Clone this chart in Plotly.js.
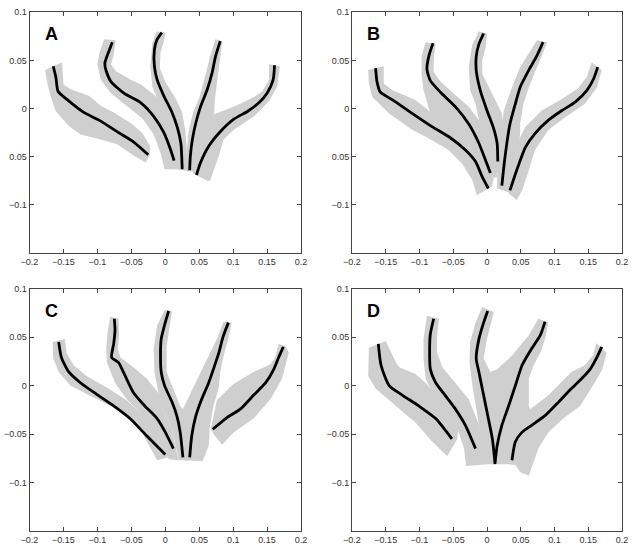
<!DOCTYPE html>
<html><head><meta charset="utf-8">
<script src="https://cdn.plot.ly/plotly-3.0.1.min.js"></script>
<style>html,body{margin:0;padding:0;background:#fff}#chart{width:636px;height:544px}</style>
</head><body><div id="chart"></div>
<script>
// ---------- Data ----------
const panelLabels = ['A','B','C','D'];
const xTickVals = [-0.2,-0.15,-0.1,-0.05,0,0.05,0.1,0.15,0.2];
const xTickText = ['\u22120.2','\u22120.15','\u22120.1','\u22120.05','0','0.05','0.1','0.15','0.2'];
const yTickVals = [-0.1,-0.05,0,0.05,0.1];
const yTickTextTop = ['\u22120.1','0.05','0','0.05','0.1'];
const yTickTextBottom = ['\u22120.1','\u22120.05','0','0.05','0.1'];

// Panel A
const panelA_lineX = [
  [-0.165,-0.161,-0.158,-0.144,-0.120,-0.095,-0.071,-0.046,-0.025],
  [-0.078,-0.085,-0.089,-0.087,-0.080,-0.061,-0.036,-0.017,-0.002,0.008,0.013],
  [-0.005,-0.012,-0.016,-0.016,-0.012,-0.002,0.010,0.018,0.023,0.025],
  [0.081,0.074,0.069,0.062,0.052,0.045,0.040,0.037,0.036],
  [0.161,0.159,0.150,0.138,0.121,0.101,0.081,0.064,0.052,0.046]];
const panelA_lineY = [
  [0.044,0.032,0.018,0.009,-0.004,-0.013,-0.024,-0.035,-0.048],
  [0.069,0.056,0.047,0.039,0.028,0.016,0.006,-0.008,-0.025,-0.043,-0.054],
  [0.079,0.072,0.061,0.044,0.030,0.013,-0.004,-0.020,-0.036,-0.063],
  [0.070,0.054,0.037,0.020,0.002,-0.015,-0.032,-0.049,-0.064],
  [0.045,0.030,0.016,0.006,-0.003,-0.011,-0.024,-0.039,-0.056,-0.069]];
const panelA_bandX = [
  [-0.177,-0.152,-0.150,-0.139,-0.112,-0.095,-0.076,-0.051,-0.034,-0.022,-0.023,-0.029,-0.046,-0.071,-0.095,-0.125,-0.142,-0.161,-0.169,-0.174],
  [-0.090,-0.097,-0.100,-0.095,-0.080,-0.056,-0.034,-0.017,-0.007,-0.001,0.025,0.023,0.015,0.005,-0.014,-0.036,-0.051,-0.073,-0.080,-0.076,-0.073],
  [-0.013,-0.019,-0.022,-0.019,-0.007,0.008,0.015,0.018,0.035,0.032,0.030,0.025,0.015,0.0005,-0.008,-0.007,-0.002,0.0005],
  [0.074,0.066,0.059,0.051,0.041,0.034,0.031,0.032,0.047,0.052,0.062,0.072,0.073,0.077,0.081,0.084],
  [0.153,0.153,0.143,0.131,0.101,0.072,0.059,0.047,0.040,0.062,0.066,0.072,0.079,0.086,0.101,0.131,0.153,0.165,0.169]];
const panelA_bandY = [
  [0.040,0.048,0.025,0.020,0.013,0.003,-0.004,-0.015,-0.025,-0.039,-0.049,-0.056,-0.049,-0.037,-0.032,-0.027,-0.018,-0.003,0.013,0.027],
  [0.072,0.058,0.046,0.030,0.016,0.002,-0.010,-0.027,-0.046,-0.063,-0.063,-0.043,-0.025,-0.008,0.013,0.025,0.030,0.039,0.046,0.056,0.071],
  [0.080,0.068,0.044,0.023,0.002,-0.018,-0.039,-0.063,-0.065,-0.049,-0.025,-0.004,0.011,0.027,0.042,0.058,0.070,0.079],
  [0.072,0.054,0.034,0.013,-0.004,-0.025,-0.049,-0.065,-0.065,-0.046,-0.025,-0.006,0.009,0.030,0.051,0.070],
  [0.046,0.030,0.018,0.012,0.002,-0.006,-0.025,-0.046,-0.067,-0.075,-0.075,-0.063,-0.049,-0.032,-0.022,-0.008,0.008,0.023,0.044]];

// Panel B
const panelB_lineX = [
  [-0.165,-0.163,-0.158,-0.140,-0.111,-0.081,-0.057,-0.032,-0.017,-0.007,0.002],
  [-0.080,-0.086,-0.089,-0.084,-0.069,-0.047,-0.027,-0.012,-0.002,0.005],
  [-0.005,-0.012,-0.016,-0.016,-0.010,0.000,0.010,0.015,0.016],
  [0.083,0.074,0.062,0.049,0.042,0.034,0.030,0.026,0.022],
  [0.164,0.158,0.148,0.131,0.111,0.091,0.071,0.057,0.044,0.034]];
const panelB_lineY = [
  [0.042,0.028,0.017,0.009,-0.005,-0.019,-0.029,-0.043,-0.055,-0.071,-0.083],
  [0.068,0.055,0.041,0.029,0.017,0.002,-0.016,-0.036,-0.054,-0.067],
  [0.078,0.067,0.054,0.040,0.019,-0.002,-0.021,-0.036,-0.055],
  [0.069,0.055,0.040,0.022,0.005,-0.016,-0.033,-0.054,-0.080],
  [0.043,0.031,0.019,0.007,-0.002,-0.012,-0.026,-0.040,-0.064,-0.085]];
const panelB_bandX = [
  [-0.176,-0.153,-0.153,-0.140,-0.106,-0.081,-0.047,-0.022,-0.002,0.012,0.007,-0.015,-0.022,-0.037,-0.057,-0.086,-0.111,-0.145,-0.170,-0.175],
  [-0.091,-0.097,-0.097,-0.094,-0.084,-0.057,-0.032,-0.012,-0.002,0.015,0.012,0.002,-0.012,-0.027,-0.047,-0.069,-0.079,-0.079,-0.076],
  [-0.012,-0.022,-0.027,-0.025,-0.017,-0.012,-0.002,0.002,0.005,0.022,0.025,0.025,0.022,0.015,0.005,-0.007,-0.007,-0.002,0.000],
  [0.074,0.062,0.049,0.037,0.025,0.020,0.015,0.015,0.037,0.042,0.047,0.049,0.049,0.054,0.062,0.071,0.081,0.089],
  [0.155,0.148,0.135,0.111,0.081,0.057,0.047,0.040,0.032,0.044,0.052,0.062,0.071,0.091,0.116,0.145,0.163,0.170]];
const panelB_bandY = [
  [0.040,0.044,0.026,0.019,0.009,-0.005,-0.015,-0.033,-0.050,-0.067,-0.081,-0.090,-0.074,-0.057,-0.043,-0.031,-0.022,-0.005,0.012,0.026],
  [0.069,0.054,0.036,0.019,-0.005,-0.026,-0.043,-0.061,-0.074,-0.071,-0.054,-0.033,-0.012,0.002,0.014,0.028,0.038,0.052,0.067],
  [0.080,0.066,0.043,0.019,0.005,-0.012,-0.033,-0.054,-0.067,-0.067,-0.054,-0.026,-0.005,0.005,0.019,0.036,0.050,0.064,0.078],
  [0.071,0.057,0.043,0.022,-0.002,-0.026,-0.054,-0.083,-0.088,-0.067,-0.047,-0.026,-0.016,0.005,0.022,0.038,0.054,0.069],
  [0.048,0.033,0.021,0.010,-0.002,-0.019,-0.033,-0.060,-0.088,-0.095,-0.085,-0.064,-0.043,-0.022,-0.009,0.005,0.022,0.040]];

// Panel C
const panelC_lineX = [
  [-0.157,-0.153,-0.143,-0.125,-0.101,-0.076,-0.052,-0.027,0.000],
  [-0.075,-0.074,-0.076,-0.079,-0.069,-0.059,-0.047,-0.030,-0.012,0.000,0.012],
  [0.005,0.000,-0.006,-0.007,-0.006,-0.001,0.010,0.017,0.022,0.026],
  [0.093,0.085,0.079,0.071,0.064,0.052,0.044,0.039,0.036],
  [0.174,0.167,0.160,0.148,0.130,0.111,0.091,0.070]];
const panelC_lineY = [
  [0.045,0.029,0.015,0.003,-0.009,-0.021,-0.034,-0.052,-0.071],
  [0.069,0.057,0.043,0.029,0.024,0.010,-0.007,-0.021,-0.034,-0.048,-0.065],
  [0.077,0.065,0.048,0.031,0.014,0.000,-0.017,-0.031,-0.048,-0.074],
  [0.065,0.050,0.034,0.017,0.003,-0.017,-0.034,-0.052,-0.074],
  [0.040,0.029,0.017,0.003,-0.010,-0.024,-0.033,-0.045]];
const panelC_bandX = [
  [-0.166,-0.148,-0.145,-0.135,-0.116,-0.086,-0.057,-0.032,-0.012,0.005,0.005,-0.012,-0.022,-0.037,-0.061,-0.086,-0.116,-0.140,-0.157,-0.165],
  [-0.081,-0.085,-0.087,-0.086,-0.074,-0.057,-0.037,-0.017,-0.002,0.005,0.020,0.017,0.010,-0.002,-0.007,-0.027,-0.047,-0.066,-0.070,-0.068,-0.069],
  [-0.001,-0.012,-0.017,-0.016,-0.010,-0.002,0.010,0.017,0.020,0.036,0.034,0.032,0.026,0.022,0.010,0.002,0.002,0.007,0.010],
  [0.086,0.076,0.062,0.047,0.032,0.026,0.025,0.027,0.055,0.064,0.066,0.071,0.079,0.081,0.086,0.093,0.098],
  [0.167,0.162,0.155,0.130,0.101,0.076,0.067,0.071,0.084,0.101,0.130,0.155,0.172,0.182,0.177]];
const panelC_bandY = [
  [0.045,0.048,0.033,0.021,0.010,-0.002,-0.015,-0.031,-0.046,-0.062,-0.074,-0.077,-0.064,-0.045,-0.028,-0.019,-0.009,0.000,0.014,0.028],
  [0.071,0.055,0.038,0.024,0.003,-0.014,-0.028,-0.045,-0.062,-0.076,-0.077,-0.069,-0.045,-0.026,-0.010,0.007,0.019,0.029,0.038,0.053,0.069],
  [0.078,0.062,0.038,0.014,-0.007,-0.026,-0.045,-0.069,-0.077,-0.077,-0.074,-0.048,-0.024,-0.021,0.000,0.014,0.041,0.062,0.077],
  [0.066,0.048,0.028,0.007,-0.014,-0.024,-0.048,-0.077,-0.078,-0.062,-0.041,-0.021,-0.002,0.014,0.031,0.048,0.065],
  [0.043,0.029,0.022,0.014,0.002,-0.015,-0.045,-0.050,-0.061,-0.048,-0.034,-0.014,0.007,0.034,0.041]];

// Panel D
const panelD_lineX = [
  [-0.161,-0.157,-0.145,-0.125,-0.101,-0.076,-0.052],
  [-0.079,-0.084,-0.085,-0.084,-0.076,-0.062,-0.047,-0.032,-0.017],
  [0.001,-0.005,-0.012,-0.016,-0.012,-0.005,0.002,0.008,0.012],
  [0.086,0.079,0.066,0.052,0.042,0.032,0.022,0.015,0.012],
  [0.170,0.162,0.153,0.140,0.125,0.106,0.086,0.066,0.052,0.042,0.037]];
const panelD_lineY = [
  [0.043,0.021,0.000,-0.010,-0.021,-0.034,-0.055],
  [0.069,0.053,0.038,0.017,0.003,-0.010,-0.024,-0.041,-0.065],
  [0.077,0.065,0.048,0.028,0.014,-0.010,-0.034,-0.055,-0.081],
  [0.066,0.052,0.038,0.021,0.000,-0.021,-0.041,-0.062,-0.079],
  [0.040,0.028,0.017,0.007,-0.003,-0.017,-0.031,-0.041,-0.048,-0.058,-0.077]];
const panelD_bandX = [
  [-0.175,-0.150,-0.135,-0.130,-0.106,-0.091,-0.062,-0.042,-0.044,-0.059,-0.081,-0.106,-0.135,-0.165,-0.176],
  [-0.089,-0.094,-0.094,-0.091,-0.076,-0.057,-0.042,-0.034,-0.031,0.000,-0.002,-0.012,-0.027,-0.047,-0.066,-0.074,-0.074,-0.071],
  [-0.007,-0.017,-0.025,-0.026,-0.021,-0.012,-0.005,-0.002,0.030,0.025,0.022,0.015,0.005,-0.005,-0.001,0.005,0.010],
  [0.076,0.062,0.037,0.015,0.005,0.010,0.005,0.005,0.037,0.042,0.052,0.064,0.062,0.062,0.069,0.079,0.086,0.091],
  [0.162,0.157,0.145,0.125,0.091,0.064,0.042,0.032,0.030,0.042,0.049,0.062,0.069,0.076,0.091,0.113,0.138,0.157,0.171,0.177]];
const panelD_bandY = [
  [0.039,0.046,0.024,0.019,0.012,0.003,-0.021,-0.041,-0.055,-0.073,-0.058,-0.038,-0.021,-0.003,0.010],
  [0.072,0.048,0.028,0.007,-0.014,-0.031,-0.048,-0.065,-0.083,-0.081,-0.062,-0.040,-0.014,0.003,0.019,0.034,0.052,0.069],
  [0.081,0.065,0.045,0.024,-0.003,-0.040,-0.062,-0.081,-0.081,-0.062,-0.040,-0.010,0.014,0.028,0.045,0.062,0.076],
  [0.069,0.052,0.031,0.017,0.014,-0.020,-0.050,-0.080,-0.081,-0.069,-0.045,-0.024,-0.021,0.007,0.021,0.034,0.048,0.065],
  [0.044,0.031,0.021,0.014,-0.010,-0.024,-0.045,-0.069,-0.081,-0.082,-0.089,-0.093,-0.079,-0.065,-0.048,-0.034,-0.021,0.000,0.017,0.034]];

// ---------- Build ----------
const panels = [
  {lx:panelA_lineX, ly:panelA_lineY, bx:panelA_bandX, by:panelA_bandY, yt:yTickTextTop},
  {lx:panelB_lineX, ly:panelB_lineY, bx:panelB_bandX, by:panelB_bandY, yt:yTickTextTop},
  {lx:panelC_lineX, ly:panelC_lineY, bx:panelC_bandX, by:panelC_bandY, yt:yTickTextBottom},
  {lx:panelD_lineX, ly:panelD_lineY, bx:panelD_bandX, by:panelD_bandY, yt:yTickTextBottom}];

const W = 636, H = 544;
const xDom = [[29.5/W, 301/W],[352/W, 622/W],[29.5/W, 301/W],[352/W, 622/W]];
const yDom = [[1-253/H, 1-12.3/H],[1-253/H, 1-12.3/H],[1-531/H, 1-288.7/H],[1-531/H, 1-288.7/H]];
const GRAY = '#cfcfcf';

const traces = [];
const layout = {
  width: W, height: H, showlegend: false,
  margin: {l:0, r:0, t:0, b:0, autoexpand:false},
  paper_bgcolor: '#fff', plot_bgcolor: '#fff',
  font: {family: 'Liberation Sans, Arial, sans-serif', size: 9, color: '#333'},
  annotations: []
};

panels.forEach((p, i) => {
  const s = i === 0 ? '' : String(i + 1);
  const xa = 'x' + s, ya = 'y' + s;
  p.bx.forEach((bx, k) => {
    traces.push({type:'scatter', mode:'lines', x: bx.concat([bx[0]]), y: p.by[k].concat([p.by[k][0]]),
      xaxis: xa, yaxis: ya, fill:'toself', fillcolor: GRAY, line:{width:0, color: GRAY},
      hoverinfo:'skip'});
  });
  p.lx.forEach((lx, k) => {
    traces.push({type:'scatter', mode:'lines', x: lx, y: p.ly[k], xaxis: xa, yaxis: ya,
      line:{color:'#000', width:2.8, shape:'spline', smoothing:0.6}, hoverinfo:'skip'});
  });
  const axCommon = {showgrid:false, zeroline:false, showline:true, mirror:'ticks', linecolor:'#444',
    linewidth:1, ticks:'inside', ticklen:4, tickcolor:'#444', tickfont:{size:9, color:'#333'}};
  layout['xaxis' + s] = Object.assign({}, axCommon, {domain: xDom[i], range:[-0.2,0.2], anchor: ya,
    tickmode:'array', tickvals: xTickVals, ticktext: xTickText});
  layout['yaxis' + s] = Object.assign({}, axCommon, {domain: yDom[i], range:[-0.15,0.1], anchor: xa,
    tickmode:'array', tickvals: yTickVals, ticktext: p.yt});
  layout.annotations.push({xref: xa + ' domain', yref: ya + ' domain', x: 0.048, y: 0.91,
    xanchor:'left', yanchor:'middle', showarrow:false, text:'<b>' + panelLabels[i] + '</b>',
    font:{family:'Liberation Sans, Arial, sans-serif', size:18, color:'#000'}});
});

Plotly.newPlot('chart', traces, layout, {staticPlot:true, displayModeBar:false});
</script></body></html>
